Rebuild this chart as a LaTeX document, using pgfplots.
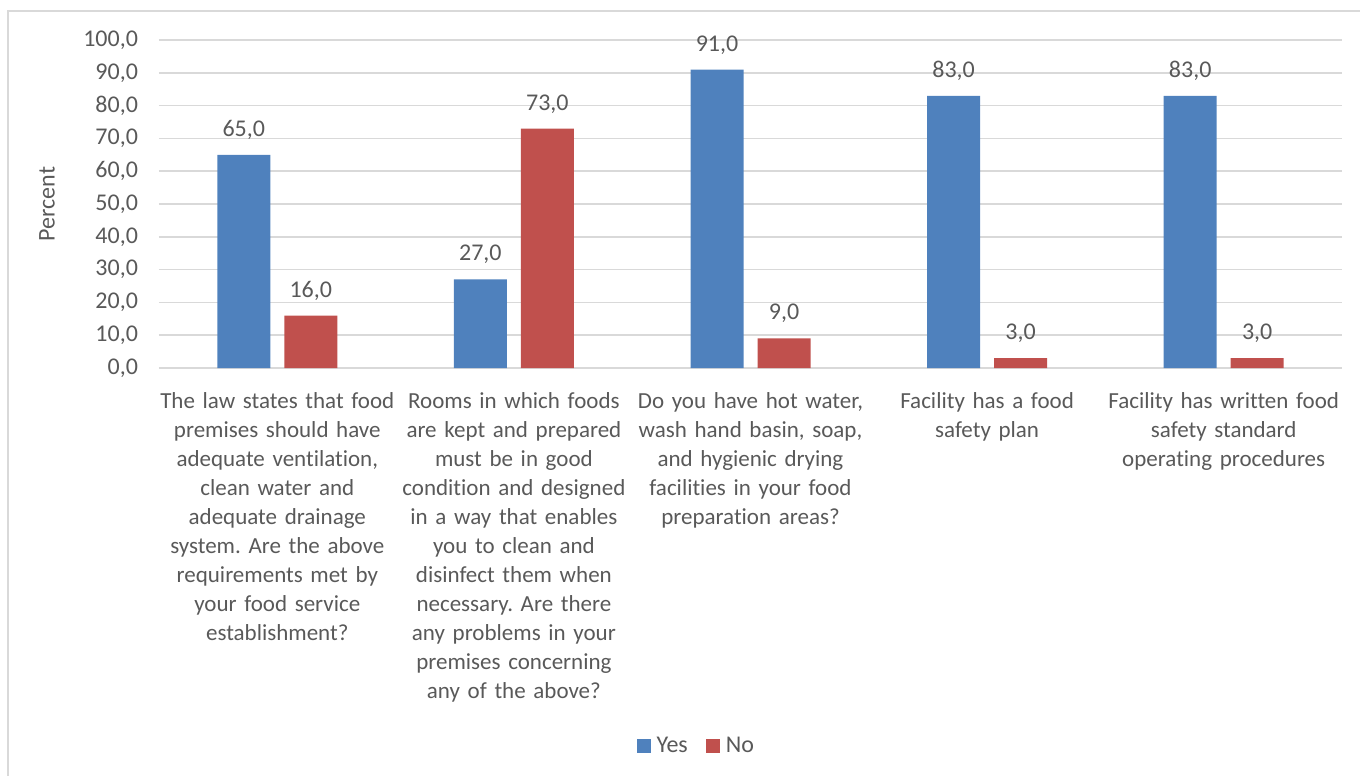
\documentclass[border=0pt]{standalone}
\usepackage{pgfplots}
\pgfplotsset{compat=1.18}
\usepackage{fontspec}
\setmainfont{Carlito}[Ligatures={NoCommon,NoContextual}]
\frenchspacing
\definecolor{txt}{HTML}{595959}
\definecolor{gridc}{HTML}{D9D9D9}
\definecolor{byes}{HTML}{4F81BD}
\definecolor{bno}{HTML}{C0504D}
\begin{document}
\begin{tikzpicture}
\path[use as bounding box] (-79.5pt,-204pt) rectangle (600.5pt,184pt);
\draw[gridc, line width=0.75pt] (-75.5pt,-210pt) -- (-75.5pt,178.5pt) -- (610pt,178.5pt);
\begin{axis}[
  at={(0pt,0pt)}, anchor=south west,
  scale only axis, width=591.5pt, height=164pt,
  ybar, bar width=26.5pt, ybar=7pt,
  xmin=-0.5, xmax=4.5, ymin=0, ymax=100,
  ytick={0,10,...,100},
  xtick={0,1,2,3,4},
  xticklabels={
    {The law states that food\\premises should have\\adequate ventilation,\\clean water and\\adequate drainage\\system. Are the above\\requirements met by\\your food service\\establishment?},
    {Rooms in which foods\\are kept and prepared\\must be in good\\condition and designed\\in a way that enables\\you to clean and\\disinfect them when\\necessary. Are there\\any problems in your\\premises concerning\\any of the above?},
    {Do you have hot water,\\wash hand basin, soap,\\and hygienic drying\\facilities in your food\\preparation areas?},
    {Facility has a food\\safety plan},
    {Facility has written food\\safety standard\\operating procedures}},
  xticklabel style={align=center, text width=125pt, font=\fontsize{11.5}{14.5}\selectfont, text=txt, yshift=-8.5pt},
  yticklabel style={font=\fontsize{12}{14.5}\selectfont, text=txt, xshift=-7pt},
  /pgf/number format/assume math mode=true,
  yticklabel={\pgfmathprintnumber[fixed, fixed zerofill, precision=1, use comma]{\tick}},
  major tick length=0pt,
  axis line style={draw=none},
  ymajorgrids, grid style={gridc, line width=0.75pt},
  ylabel={Percent},
  ylabel style={at={(axis description cs:-0.0947,0.5)}, anchor=center, font=\fontsize{12}{14.5}\selectfont, text=txt},
  nodes near coords={\pgfmathprintnumber[fixed, fixed zerofill, precision=1, use comma, assume math mode=true]{\pgfplotspointmeta}},
  nodes near coords style={anchor=base, yshift=9.25pt, font=\fontsize{12}{14.5}\selectfont, text=txt},
  legend columns=2,
  legend style={at={(axis description cs:0.455,-1.152)}, anchor=center, draw=none, fill=none,
    font=\fontsize{12}{14.5}\selectfont, text=txt,
    /tikz/every even column/.append style={column sep=7pt},
    /tikz/every odd column/.append style={column sep=1pt}},
  legend image code/.code={\fill[#1] (0pt,-3.5pt) rectangle (7pt,3.5pt);},
]
\addplot[fill=byes, draw=none] coordinates {(0,65) (1,27) (2,91) (3,83) (4,83)};
\addplot[fill=bno, draw=none] coordinates {(0,16) (1,73) (2,9) (3,3) (4,3)};
\legend{Yes, No}
\end{axis}
\end{tikzpicture}
\end{document}
